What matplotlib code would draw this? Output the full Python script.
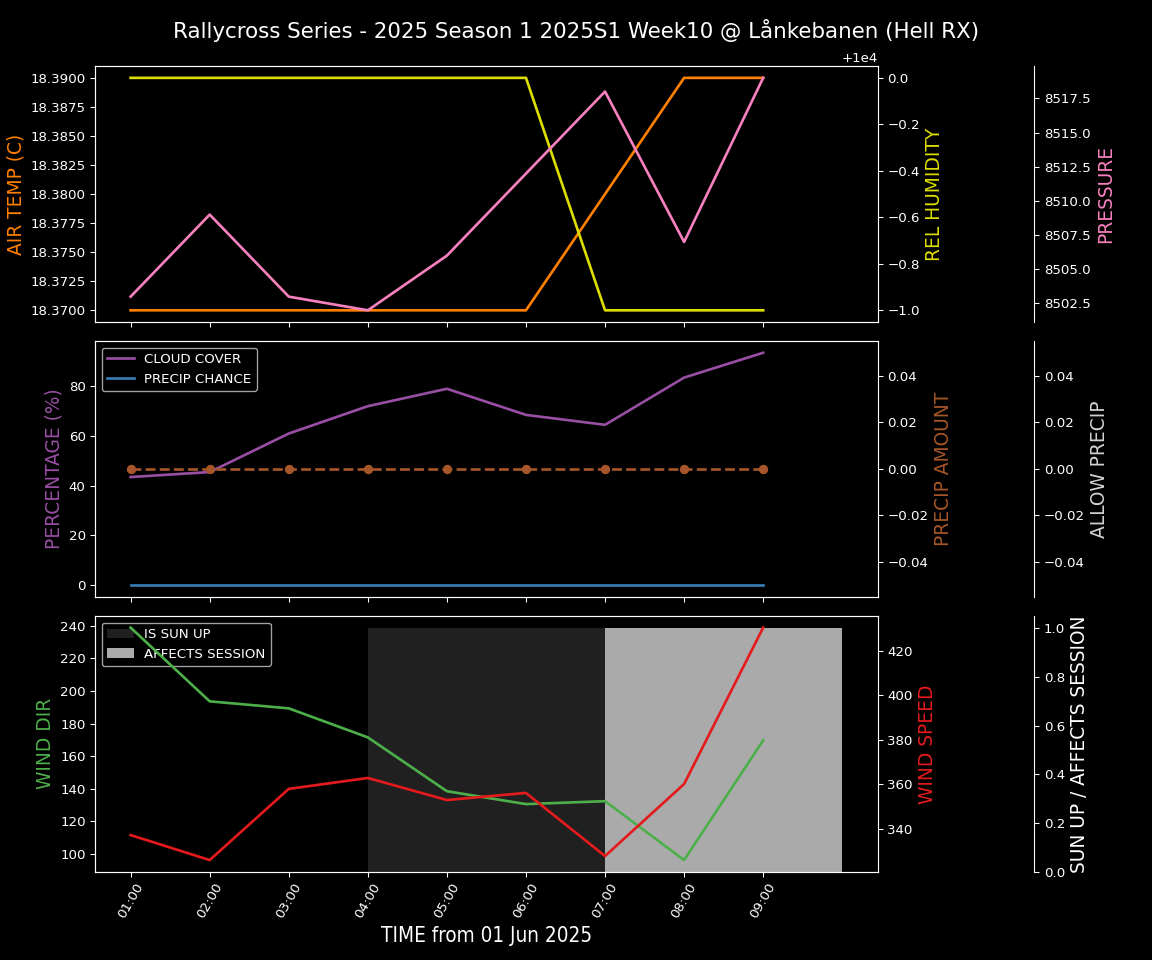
import numpy as np
import matplotlib
matplotlib.use("Agg")
import matplotlib.pyplot as plt
import matplotlib.dates as mdates
from datetime import datetime

plt.style.use('dark_background')

# data
hours = ['01:00', '02:00', '03:00', '04:00', '05:00', '06:00', '07:00', '08:00', '09:00']
air_temp = [18.37, 18.37, 18.37, 18.37, 18.37, 18.37, 18.38, 18.39, 18.39]
rel_humidity = [10000, 10000, 10000, 10000, 10000, 10000, 9999, 9999, 9999]
pressure = [8503, 8509, 8503, 8502, 8506, 8512, 8518, 8507, 8519]
cloud_cover = [43.5, 45.5, 61, 72, 79, 68.5, 64.5, 83.5, 93.5]
precip_chance = [0, 0, 0, 0, 0, 0, 0, 0, 0]
precip_amount = [0, 0, 0, 0, 0, 0, 0, 0, 0]
wind_dir = [238.8, 193.6, 189.3, 171.5, 138.5, 130.6, 132.4, 96.3, 169.7]
wind_speed = [337.3, 326.1, 358, 362.9, 353, 356.2, 327.9, 360.2, 430.3]
sun_up = [0, 0, 0, 1, 1, 1, 0, 0, 0]
affects_session = [0, 0, 0, 0, 0, 0, 1, 1, 1]

t = [datetime.strptime('2025-06-01 ' + h, '%Y-%m-%d %H:%M') for h in hours]

fig, axs = plt.subplots(3, 1, figsize=(12, 10), dpi=96, sharex=True)
fig.subplots_adjust(left=0.0825, right=0.762, top=0.931, bottom=0.092, hspace=0.075)
fig.suptitle('Rallycross Series - 2025 Season 1 2025S1 Week10 @ Lånkebanen (Hell RX)', fontsize=16, y=0.98)

def third_axis(ax):
    a = ax.twinx()
    a.spines['right'].set_position(('axes', 1.2))
    return a

# top panel
ax = axs[0]
ax.plot(t, air_temp, color='#ff7f00', lw=2)
ax.set_ylabel('AIR TEMP (C)', color='#ff7f00', fontsize=14)
ax2 = ax.twinx()
ax2.plot(t, rel_humidity, color='#dddd00', lw=2)
ax2.set_ylabel('REL HUMIDITY', color='#dddd00', fontsize=14)
ax3 = third_axis(ax)
ax3.plot(t, pressure, color='#f781bf', lw=2)
ax3.set_ylabel('PRESSURE', color='#f781bf', fontsize=14)

# middle panel
ax = axs[1]
ax.plot(t, cloud_cover, color='#984ea3', lw=2, label='CLOUD COVER')
ax.plot(t, precip_chance, color='#377eb8', lw=2, label='PRECIP CHANCE')
ax.set_ylabel('PERCENTAGE (%)', color='#984ea3', fontsize=14)
ax.legend(loc='upper left')
ax2 = ax.twinx()
ax2.plot(t, precip_amount, color='#a65628', lw=2, ls='--', marker='o')
ax2.set_ylabel('PRECIP AMOUNT', color='#a65628', fontsize=14)
ax3 = third_axis(ax)
ax3.set_ylim(-0.055, 0.055)
ax3.set_ylabel('ALLOW PRECIP', color='#d3d3d3', fontsize=14)

# bottom panel
ax = axs[2]
ax3 = third_axis(ax)
ax3.bar(t, sun_up, width=1/24, align='edge', color='#202020', label='IS SUN UP')
ax3.bar(t, affects_session, width=1/24, align='edge', color='#aaaaaa', label='AFFECTS SESSION')
ax3.set_ylabel('SUN UP / AFFECTS SESSION', color='white', fontsize=14)
ax3.legend(loc='upper left')
ax.set_zorder(ax3.get_zorder() + 1)
ax.patch.set_visible(False)
ax.plot(t, wind_dir, color='#4daf4a', lw=2)
ax.set_ylabel('WIND DIR', color='#4daf4a', fontsize=14)
ax2 = ax.twinx()
ax2.plot(t, wind_speed, color='#e41a1c', lw=2)
ax2.set_ylabel('WIND SPEED', color='#e41a1c', fontsize=14)
ax2.set_zorder(ax.get_zorder() + 1)

ax.set_xticks(t)
ax.xaxis.set_major_formatter(mdates.DateFormatter('%H:%M'))
for lab in ax.get_xticklabels():
    lab.set_rotation(60)
ax.set_xlabel('TIME from 01 Jun 2025', fontsize=15.5, fontstretch='condensed')

fig.savefig('out.png')
